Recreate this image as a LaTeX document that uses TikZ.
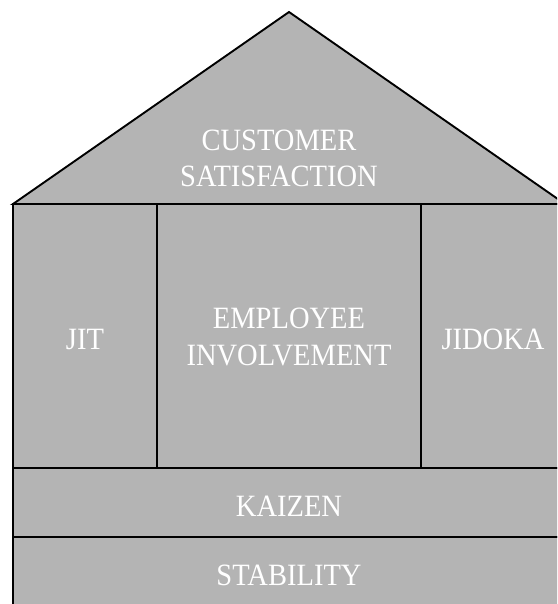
\documentclass[tikz,border=0pt]{standalone}
\usepackage{fontspec}
\setmainfont{Liberation Serif}[FakeStretch=0.92]
\definecolor{panel}{RGB}{180,180,180}
\begin{document}
\begin{tikzpicture}[x=1pt,y=-1pt,line width=1.9pt,
  lbl/.style={text=white,font=\fontsize{31}{36.5}\selectfont,align=center,inner sep=0pt,anchor=base},
  panelbox/.style={draw=black,fill=panel,rectangle,inner sep=0pt}]
\useasboundingbox (0,0) rectangle (557,604);
\clip (0,0) rectangle (557,604);
\draw[fill=panel,line join=miter] (13,204) -- (289,12) -- (565,204) -- cycle;
\node[panelbox,minimum width=144,minimum height=264] (jitbox) at (85,336) {};
\node[panelbox,minimum width=264,minimum height=264] (eibox) at (289,336) {};
\node[panelbox,minimum width=144,minimum height=264] (jidokabox) at (493,336) {};
\node[panelbox,minimum width=552,minimum height=69] (kaizenbox) at (289,502.5) {};
\node[panelbox,minimum width=552,minimum height=103] (stabilitybox) at (289,588.5) {};
\node[lbl] (roof) at (279,186.5) {CUSTOMER\\SATISFACTION};
\node[lbl] (jit) at (85,349) {JIT};
\node[lbl] (ei) at (289,365) {EMPLOYEE\\INVOLVEMENT};
\node[lbl] (jidoka) at (493,349) {JIDOKA};
\node[lbl] (kaizen) at (289,516) {KAIZEN};
\node[lbl] (stability) at (289,585) {STABILITY};
\end{tikzpicture}
\end{document}
